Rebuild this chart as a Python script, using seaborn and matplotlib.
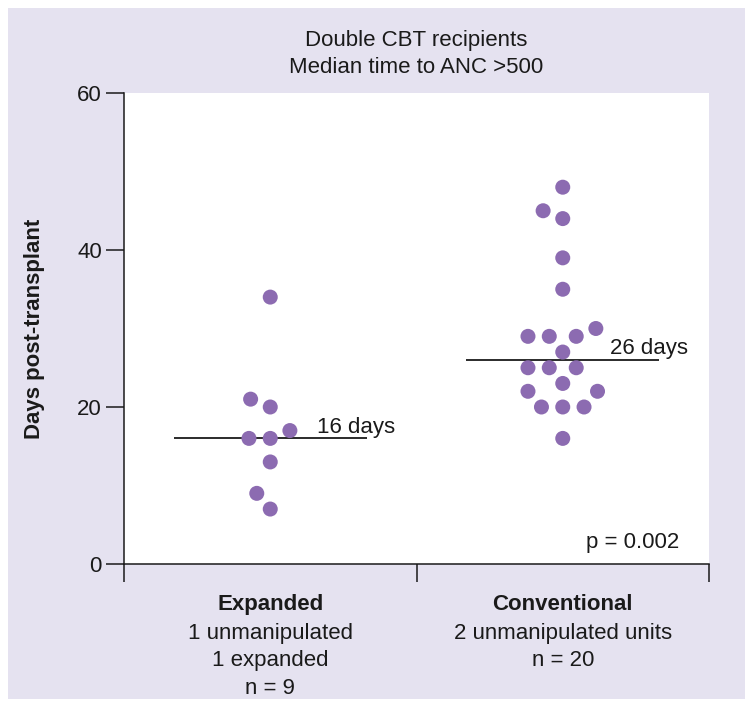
import matplotlib
matplotlib.use('Agg')
import matplotlib.pyplot as plt
import seaborn as sns
import pandas as pd
from matplotlib.patches import Rectangle

# ---- data ----
groups = ['Expanded', 'Conventional']
expanded_days = [34, 21, 20, 17, 16, 16, 13, 9, 7]
conventional_days = [48, 45, 44, 39, 35, 30, 29, 29, 29, 27,
                     25, 25, 25, 23, 22, 22, 20, 20, 20, 16]
medians = [16, 26]
median_labels = ['16 days', '26 days']
group_sublabels = [['1 unmanipulated', '1 expanded', 'n = 9'],
                   ['2 unmanipulated units', 'n = 20']]
y_ticks = [0, 20, 40, 60]
title_lines = ['Double CBT recipients', 'Median time to ANC >500']
p_text = 'p = 0.002'
y_label = 'Days post-transplant'

df = pd.DataFrame({
    'group': [groups[0]] * len(expanded_days) + [groups[1]] * len(conventional_days),
    'days': expanded_days + conventional_days,
})

# ---- style ----
sns.set_theme(style='white')
plt.rcParams['font.family'] = ['Liberation Sans', 'DejaVu Sans']
purple = '#8c6bb1'
lavender = '#e5e2f0'
ink = '#1a1a1a'
fs = 16

fig = plt.figure(figsize=(7.54, 7.09), dpi=100, facecolor='white')
fig.patches.append(Rectangle((8 / 754, 10 / 709), 737 / 754, 691 / 709,
                             transform=fig.transFigure, facecolor=lavender,
                             edgecolor='none', zorder=-10))
ax = fig.add_axes([124 / 754, 1 - 564 / 709, 585 / 754, 471 / 709])
ax.set_facecolor('white')

# invisible edge widens the swarm spacing without enlarging the dots
sns.swarmplot(data=df, x='group', y='days', order=groups, color=purple,
              size=10.8, linewidth=3.8, edgecolor='none', ax=ax, zorder=3)

# median lines
for i, (m, lab) in enumerate(zip(medians, median_labels)):
    ax.hlines(m, i - 0.33, i + 0.33, color=ink, lw=1.3, zorder=2)
    ax.text(i + 0.16, m + 0.75, lab, fontsize=fs, color=ink, ha='left', va='baseline')

ax.set_xlim(-0.5, 1.5)
ax.set_ylim(0, 60)
ax.set_xticks([-0.5, 0.5, 1.5])
ax.set_xticklabels([])
ax.set_yticks(y_ticks)
ax.tick_params(axis='both', direction='out', length=13, width=1.1, color=ink,
               labelsize=fs, labelcolor=ink, pad=3, left=True, bottom=True)
for s in ['top', 'right']:
    ax.spines[s].set_visible(False)
for s in ['left', 'bottom']:
    ax.spines[s].set_color(ink)
    ax.spines[s].set_linewidth(1.1)

ax.set_xlabel('')
ax.set_ylabel(y_label, fontsize=fs, fontweight='bold', color=ink)
ax.yaxis.set_label_coords(-0.135, 0.5)

# category labels
xt = ax.get_xaxis_transform()
line_y = [-0.087, -0.1465, -0.2059, -0.2633]
for i, g in enumerate(groups):
    ax.text(i, line_y[0], g, transform=xt, ha='center', va='center',
            fontsize=fs, fontweight='bold', color=ink)
    for j, sub in enumerate(group_sublabels[i]):
        ax.text(i, line_y[j + 1], sub, transform=xt, ha='center', va='center',
                fontsize=fs, color=ink)

# title
ax.text(0.5, 1.1125, title_lines[0], transform=ax.transAxes, ha='center',
        va='center', fontsize=fs, color=ink)
ax.text(0.5, 1.0531, title_lines[1], transform=ax.transAxes, ha='center',
        va='center', fontsize=fs, color=ink)

# p value
ax.text(1.40, 2.0, p_text, fontsize=fs, color=ink, ha='right', va='baseline')

fig.savefig('out.png', dpi=100, facecolor='white')
